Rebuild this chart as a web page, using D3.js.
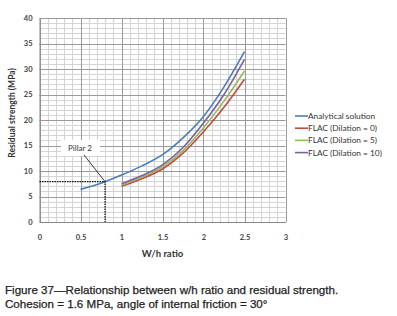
<!DOCTYPE html>
<head>
    <meta charset="utf-8">
    <title>Residual strength vs w/h ratio</title>
    <style>
        body { margin: 0; background: #fff; }
        svg { display: block; font-family: Lato, "Open Sans", sans-serif; }
    </style>
</head>
<body>

<svg width="397" height="316"></svg>

<script src="https://d3js.org/d3.v7.min.js"></script>

<script>

// data
var xTicks = [0, 0.5, 1, 1.5, 2, 2.5, 3];
var yTicks = [0, 5, 10, 15, 20, 25, 30, 35, 40];

var analyticalX = [0.5, 0.75, 1.0, 1.25, 1.5, 1.75, 2.0, 2.25, 2.5];
var analyticalY = [6.4, 7.6, 9.2, 11.0, 13.2, 16.5, 20.7, 26.5, 33.4];

var flacX = [1.0, 1.25, 1.5, 1.75, 2.0, 2.25, 2.5];
var dilation0 = [7.0, 8.5, 10.4, 13.5, 17.7, 22.5, 28.0];
var dilation5 = [7.2, 8.8, 10.8, 14.0, 18.5, 23.7, 29.6];
var dilation10 = [7.5, 9.1, 11.2, 14.6, 19.4, 25.0, 31.9];

var seriesNames = ['Analytical solution', 'FLAC (Dilation = 0)', 'FLAC (Dilation = 5)', 'FLAC (Dilation = 10)'];
var seriesColors = ['#4a7ebb', '#be4b48', '#98b954', '#7d60a0'];

var pillarX = 0.8, pillarY = 7.9;

var series = [
    { name: seriesNames[0], xs: analyticalX, ys: analyticalY },
    { name: seriesNames[1], xs: flacX, ys: dilation0 },
    { name: seriesNames[2], xs: flacX, ys: dilation5 },
    { name: seriesNames[3], xs: flacX, ys: dilation10 }
];

var svg = d3.select('svg');

var x = d3.scaleLinear().domain([0, 3]).range([39.5, 285.5]);
var y = d3.scaleLinear().domain([0, 40]).range([222, 18]);

// minor grid
var g = svg.append('g');
g.selectAll('.vminor')
    .data(d3.range(0, 3.001, 0.1))
    .enter().append('line')
        .attr('x1', d => Math.round(x(d)) + 0.5).attr('x2', d => Math.round(x(d)) + 0.5)
        .attr('y1', y(0)).attr('y2', y(40))
        .attr('stroke', '#d4d4d4').attr('stroke-width', 1);
g.selectAll('.hminor')
    .data(d3.range(0, 40.001, 1))
    .enter().append('line')
        .attr('x1', x(0)).attr('x2', x(3))
        .attr('y1', d => Math.round(y(d)) + 0.5).attr('y2', d => Math.round(y(d)) + 0.5)
        .attr('stroke', '#d4d4d4').attr('stroke-width', 1);

// major grid
g.selectAll('.vmajor')
    .data(xTicks)
    .enter().append('line')
        .attr('x1', d => Math.round(x(d)) + 0.5).attr('x2', d => Math.round(x(d)) + 0.5)
        .attr('y1', y(0)).attr('y2', y(40))
        .attr('stroke', '#9a9a9a').attr('stroke-width', 1);
g.selectAll('.hmajor')
    .data(yTicks)
    .enter().append('line')
        .attr('x1', x(0)).attr('x2', x(3))
        .attr('y1', d => Math.round(y(d)) + 0.5).attr('y2', d => Math.round(y(d)) + 0.5)
        .attr('stroke', '#9a9a9a').attr('stroke-width', 1);

// axes
var xAxis = d3.axisBottom(x).tickValues(xTicks).tickSize(0).tickPadding(13).tickFormat(d3.format('~g'));
var yAxis = d3.axisLeft(y).tickValues(yTicks).tickSize(0).tickPadding(7);

svg.append('g')
    .attr('transform', `translate(0,${y(0)})`)
    .call(xAxis)
    .call(a => a.select('.domain').attr('stroke', '#888'))
    .selectAll('text').attr('font-size', 7.5).attr('font-family', 'Lato').attr('font-weight', 'bold').attr('fill', '#444');

svg.append('g')
    .attr('transform', `translate(${x(0)},0)`)
    .call(yAxis)
    .call(a => a.select('.domain').attr('stroke', '#888'))
    .selectAll('text').attr('font-size', 7.5).attr('font-family', 'Lato').attr('font-weight', 'bold').attr('fill', '#444');

// axis titles
svg.append('text')
    .attr('x', 162.5).attr('y', 257)
    .attr('text-anchor', 'middle')
    .attr('font-size', 9.5).attr('font-weight', 'bold').attr('fill', '#333')
    .text('W/h ratio');

svg.append('text')
    .attr('transform', 'translate(15,113) rotate(-90)')
    .attr('text-anchor', 'middle')
    .attr('font-size', 8.5).attr('font-weight', 'bold').attr('fill', '#333')
    .text('Residual strength (MPa)');

// curves
var line = d3.line()
    .x(d => x(d[0]))
    .y(d => y(d[1]))
    .curve(d3.curveMonotoneX);

svg.selectAll('.curve')
    .data(series)
    .enter().append('path')
        .attr('d', s => line(s.xs.map((v, i) => [v, s.ys[i]])))
        .attr('fill', 'none')
        .attr('stroke', (s, i) => seriesColors[i])
        .attr('stroke-width', 1.6);

// pillar 2 annotation
svg.append('path')
    .attr('d', `M${x(0)},${y(pillarY)}H${x(pillarX)}V${y(0)}`)
    .attr('fill', 'none').attr('stroke', '#111')
    .attr('stroke-width', 1.3).attr('stroke-dasharray', '1.5,1');

svg.append('rect')
    .attr('x', 61).attr('y', 140).attr('width', 39).attr('height', 16)
    .attr('fill', '#fff');
svg.append('text')
    .attr('x', 80).attr('y', 151)
    .attr('text-anchor', 'middle')
    .attr('font-size', 8).attr('fill', '#333')
    .text('Pillar 2');
svg.append('line')
    .attr('x1', 84).attr('y1', 155)
    .attr('x2', x(pillarX)).attr('y2', y(pillarY))
    .attr('stroke', '#222').attr('stroke-width', 0.9);

// legend
var legend = svg.append('g').attr('transform', 'translate(295,116)');
var item = legend.selectAll('g')
    .data(seriesNames)
    .enter().append('g')
        .attr('transform', (d, i) => `translate(0,${i * 12.2})`);
item.append('line')
    .attr('x1', 0).attr('x2', 13)
    .attr('stroke', (d, i) => seriesColors[i]).attr('stroke-width', 1.6);
item.append('text')
    .attr('x', 13).attr('y', 3)
    .attr('font-size', 8.3).attr('fill', '#333')
    .text(d => d);

// caption
svg.append('g')
    .attr('font-family', '"Liberation Sans", Arial, sans-serif')
    .attr('font-size', 11.6).attr('fill', '#222')
    .attr('stroke', '#222').attr('stroke-width', 0.25)
    .selectAll('text')
    .data(['Figure 37\u2014Relationship between w/h ratio and residual strength.',
           'Cohesion = 1.6 MPa, angle of internal friction = 30\u00b0'])
    .enter().append('text')
        .attr('x', 5)
        .attr('y', (d, i) => 294 + i * 14)
        .text(d => d);

</script>

</body>
